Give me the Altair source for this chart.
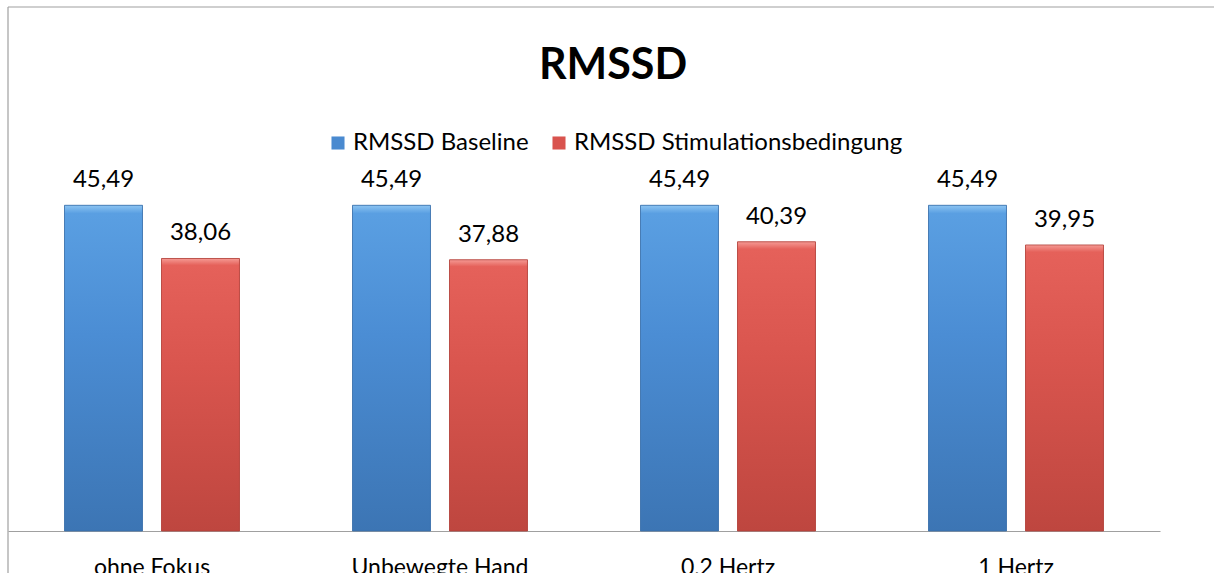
import altair as alt
import pandas as pd

categories = ["ohne Fokus", "Unbewegte Hand", "0,2 Hertz", "1 Hertz"]
series = ["RMSSD Baseline", "RMSSD Stimulationsbedingung"]
baseline_values = [45.49, 45.49, 45.49, 45.49]
stim_values = [38.06, 37.88, 40.39, 39.95]
chart_title = "RMSSD"

rows = []
for c, b, s in zip(categories, baseline_values, stim_values):
    rows.append({"cat": c, "series": series[0], "value": b})
    rows.append({"cat": c, "series": series[1], "value": s})
df = pd.DataFrame(rows)

FONT = "Lato"
blue_grad = alt.LinearGradient(
    gradient="linear", x1=0, x2=0, y1=0, y2=1,
    stops=[alt.GradientStop(offset=0, color="#8cc4f2"),
           alt.GradientStop(offset=0.025, color="#5a9fe2"),
           alt.GradientStop(offset=0.4, color="#4b8dd4"),
           alt.GradientStop(offset=1, color="#3c75b4")])
red_grad = alt.LinearGradient(
    gradient="linear", x1=0, x2=0, y1=0, y2=1,
    stops=[alt.GradientStop(offset=0, color="#f59a94"),
           alt.GradientStop(offset=0.025, color="#e5615a"),
           alt.GradientStop(offset=0.4, color="#d9554e"),
           alt.GradientStop(offset=1, color="#be463f")])

x_enc = alt.X("cat:N", sort=categories, scale=alt.Scale(paddingInner=0, paddingOuter=0),
              axis=alt.Axis(title=None, ticks=False, labelAngle=0, labelFontSize=23, labelFont=FONT,
                            labelColor="#000000", labelBaseline="top", labelPadding=25,
                            domainColor="#a0a0a0", domainWidth=1.2))
xo_enc = alt.XOffset("series:N", sort=series, scale=alt.Scale(paddingInner=0.196, paddingOuter=0.5825))
y_scale = alt.Scale(domain=[0, 50], nice=False)
y_enc = alt.Y("value:Q", scale=y_scale, axis=None)

base = alt.Chart(df)

legend_bars = base.mark_bar().encode(
    x=x_enc, xOffset=xo_enc, y=y_enc,
    color=alt.Color("series:N", sort=series,
                    scale=alt.Scale(domain=series, range=["#4a8ad0", "#d9534e"]),
                    legend=alt.Legend(title=None, orient="none", direction="horizontal",
                                      legendX=318, legendY=-42, symbolType="square",
                                      symbolSize=170, symbolStrokeWidth=0, labelFontSize=24, labelFont=FONT,
                                      labelColor="#000000", columnPadding=18, labelOffset=3,
                                      labelLimit=0)),
)

blue_bars = base.transform_filter(alt.datum.series == series[0]).mark_bar(
    fill=blue_grad, stroke="#3a6ea8", strokeWidth=0.8).encode(x=x_enc, xOffset=xo_enc, y=y_enc)
red_bars = base.transform_filter(alt.datum.series == series[1]).mark_bar(
    fill=red_grad, stroke="#b04038", strokeWidth=0.8).encode(x=x_enc, xOffset=xo_enc, y=y_enc)

labels = base.transform_calculate(
    lbl="replace(format(datum.value, '.2f'), '.', ',')"
).mark_text(baseline="alphabetic", dy=-18, fontSize=24, font=FONT, color="#000000").encode(
    x=x_enc, xOffset=xo_enc, y=y_enc, text="lbl:N")

title_mark = alt.Chart(pd.DataFrame({"t": [chart_title]})).mark_text(
    baseline="alphabetic", align="center", fontSize=43, font=FONT, fontWeight="bold", color="#000000"
).encode(text="t:N", x=alt.value(605), y=alt.value(-94))

frame_df = pd.DataFrame({"k": [0]})
frame_left = alt.Chart(frame_df).mark_rule(color="#a0a0a0", strokeWidth=1.2).encode(
    x=alt.value(0), y=alt.value(-166), y2=alt.value(420))
frame_top = alt.Chart(frame_df).mark_rule(color="#a0a0a0", strokeWidth=1.2).encode(
    x=alt.value(0), x2=alt.value(1300), y=alt.value(-166))

chart = alt.layer(legend_bars, blue_bars, red_bars, labels, title_mark, frame_left, frame_top).properties(
    width=1152, height=358,
    padding={"left": 8, "top": 173, "right": 54, "bottom": 42},
    autosize="none",
    background="#ffffff",
).configure_view(strokeWidth=0, stroke="transparent")

chart.save("out.html", embed_options={"renderer": "svg", "actions": False})
